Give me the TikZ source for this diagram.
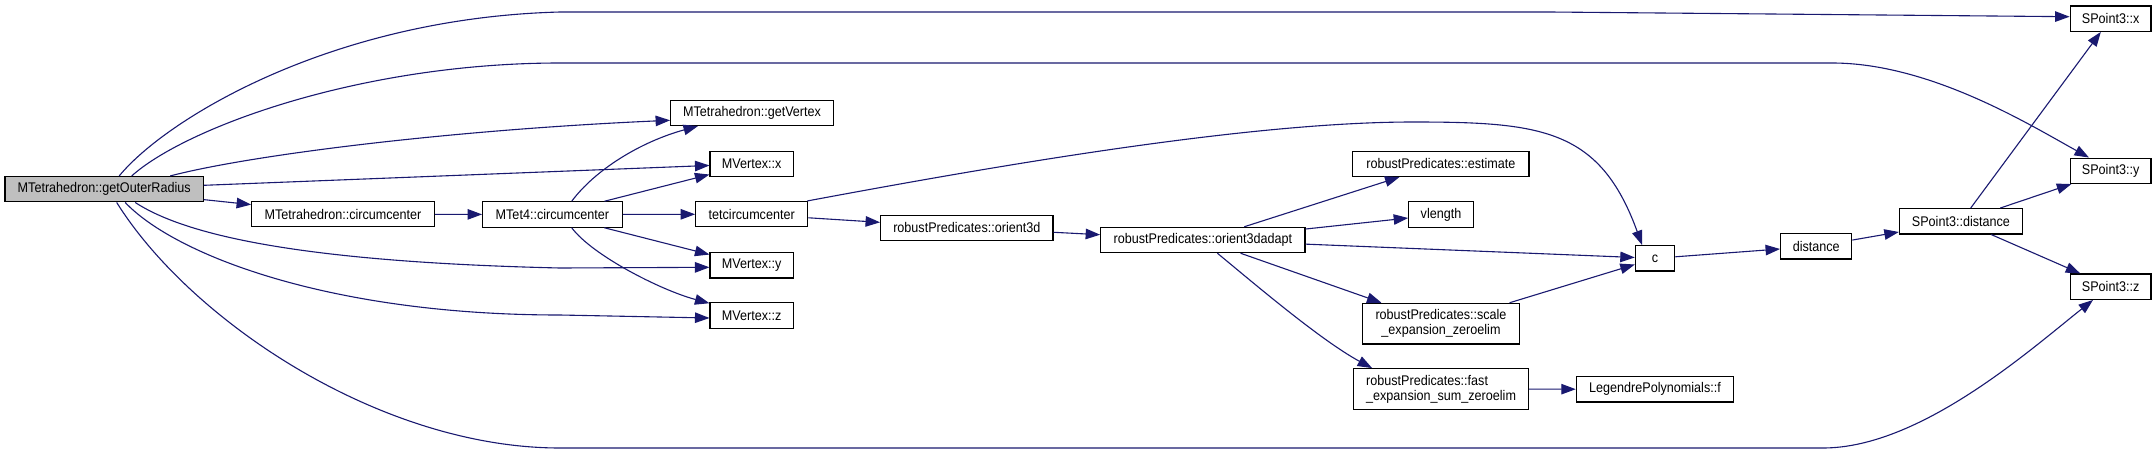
\documentclass[tikz,border=0pt]{standalone}
\usepackage{fontspec}
\setmainfont{Liberation Sans}[FakeStretch=0.9]
\usetikzlibrary{arrows.meta}
\definecolor{edgecol}{HTML}{191970}
\definecolor{fillgray}{HTML}{BFBFBF}
\begin{document}
\begin{tikzpicture}[x=1pt,y=-1pt,
  fn/.style={draw=black, line width=1.2pt, fill=white, inner sep=0pt, minimum height=25.3pt, font=\fontsize{14}{15}\selectfont},
  edge/.style={draw=edgecol, line width=1.1pt, -{Triangle[length=14.5pt,width=10.5pt]}}]
\fill[white] (0,0) rectangle (2156,453);
\useasboundingbox (0,0) rectangle (2156,453);
% nodes
\node[fn, fill=fillgray, minimum width=198.3pt] (gor) at (104.2,189.2) {MTetrahedron::getOuterRadius};
\node[fn, minimum width=182.6pt] (mtc) at (343,214.2) {MTetrahedron::circumcenter};
\node[fn, minimum width=139.5pt] (mt4) at (552.4,214.5) {MTet4::circumcenter};
\node[fn, minimum width=162.6pt] (gv) at (752,112.8) {MTetrahedron::getVertex};
\node[fn, minimum width=83.3pt] (vx) at (751.7,163.8) {MVertex::x};
\node[fn, minimum width=112pt] (tc) at (751.7,214.2) {tetcircumcenter};
\node[fn, minimum width=83.3pt] (vy) at (751.7,265.3) {MVertex::y};
\node[fn, minimum width=83.3pt] (vz) at (751.7,315.5) {MVertex::z};
\node[fn, minimum width=172.3pt] (o3) at (966.8,227.8) {robustPredicates::orient3d};
\node[fn, minimum width=204.3pt] (o3a) at (1202.9,240) {robustPredicates::orient3dadapt};
\node[fn, minimum width=176.2pt] (est) at (1440.9,163.8) {robustPredicates::estimate};
\node[fn, minimum width=64.4pt] (vl) at (1441,214.5) {vlength};
\node[fn, minimum width=157.5pt, minimum height=40.7pt, align=center] (sc) at (1441,323.7) {robustPredicates::scale\\\_expansion\_zeroelim};
\node[fn, minimum width=175pt, minimum height=40.6pt, align=left] (fe) at (1441.1,389) {robustPredicates::fast\\\_expansion\_sum\_zeroelim};
\node[fn, minimum width=157.3pt] (lf) at (1655,389.3) {LegendrePolynomials::f};
\node[fn, minimum width=39.4pt] (c) at (1655.1,258.3) {c};
\node[fn, minimum width=71.1pt] (dist) at (1816.2,246.3) {distance};
\node[fn, minimum width=122.9pt] (spd) at (1960.9,221.3) {SPoint3::distance};
\node[fn, minimum width=80.8pt] (spx) at (2110.6,18.7) {SPoint3::x};
\node[fn, minimum width=80.8pt] (spy) at (2110.6,170.8) {SPoint3::y};
\node[fn, minimum width=80.8pt] (spz) at (2110.6,286.7) {SPoint3::z};
% edges
\draw[edge] ([xshift=15pt]gor.north) .. controls (165,120) and (330,18) .. (560,12) -- (1550,12) -- ([yshift=2pt]spx.west);
\draw[edge] ([xshift=27.5pt]gor.north) .. controls (185,128) and (360,63) .. (560,63) -- (1832,63) .. controls (1930,63) and (2030,125) .. ([xshift=-21.6pt]spy.north);
\draw[edge] ([xshift=66pt]gor.north) .. controls (250,155) and (450,130) .. ([yshift=-7.5pt]gv.west);
\draw[edge] (gor) -- (vx);
\draw[edge] (gor) -- (mtc);
\draw[edge] ([xshift=31pt]gor.south) .. controls (185,235) and (300,262) .. (560,268) -- ([yshift=-2pt]vy.west);
\draw[edge] ([xshift=21pt]gor.south) .. controls (175,255) and (330,315) .. (560,315) -- ([yshift=-2.5pt]vz.west);
\draw[edge] ([xshift=12.5pt]gor.south) .. controls (190,320) and (380,448) .. (560,448) -- (1823,448) .. controls (1920,448) and (2030,350) .. ([xshift=-17.6pt]spz.south);
\draw[edge] (mtc) -- (mt4);
\draw[edge] ([xshift=19.3pt]mt4.north) .. controls (595,170) and (640,142) .. ([xshift=-54pt]gv.south);
\draw[edge] (mt4) -- (vx);
\draw[edge] (mt4) -- (tc);
\draw[edge] (mt4) -- (vy);
\draw[edge] ([xshift=19.3pt]mt4.south) .. controls (592,255) and (660,290) .. ([yshift=-1pt]vz.north west);
\draw[edge] (tc) -- (o3);
\draw[edge] ([xshift=-1pt]tc.north east) .. controls (1000,165) and (1250,122) .. (1413,122) .. controls (1542,122) and (1600,129) .. ([xshift=-13pt]c.north);
\draw[edge] (o3) -- (o3a);
\draw[edge] (o3a) -- (est);
\draw[edge] (o3a) -- (vl);
\draw[edge] (o3a) -- (c);
\draw[edge] (o3a) -- (sc);
\draw[edge] ([xshift=14.5pt]o3a.south) .. controls (1250,280) and (1320,340) .. ([xshift=-69pt]fe.north);
\draw[edge] (sc) -- (c);
\draw[edge] (fe) -- (lf);
\draw[edge] (c) -- (dist);
\draw[edge] (dist) -- (spd);
\draw[edge] (spd) -- (spx);
\draw[edge] (spd) -- (spy);
\draw[edge] (spd) -- (spz);
\end{tikzpicture}
\end{document}
